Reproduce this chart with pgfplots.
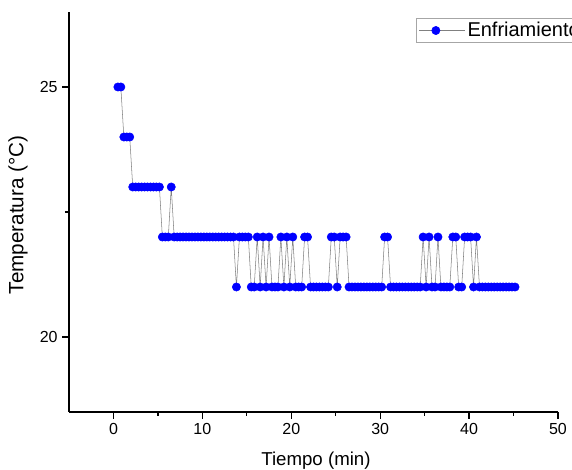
\documentclass[border=0pt]{standalone}
\usepackage{pgfplots}
\pgfplotsset{compat=1.18}
\usepackage{fontspec}
\setmainfont{Liberation Sans}
\begin{document}
\begin{tikzpicture}
\begin{axis}[
  scale only axis,
  width=366.75pt, height=300pt,
  xmin=-5, xmax=50, ymin=18.5, ymax=26.5,
  axis x line*=bottom, axis y line*=left,
  axis line style={line width=1pt, -},
  xtick={0,10,20,30,40,50},
  minor xtick={5,15,25,35,45},
  ytick={20,25}, minor ytick={22.5},
  tick align=outside,
  major tick length=5pt, minor tick length=3pt,
  tick style={line width=0.9pt, black},
  ticklabel style={font=\fontsize{12}{14}\selectfont},
  /pgf/number format/assume math mode=true,
  xlabel={Tiempo (min)}, ylabel={Temperatura (°C)},
  xlabel style={font=\fontsize{14}{16}\selectfont, at={(axis description cs:0.505,0)}, yshift=-36.75pt, anchor=center},
  ylabel style={font=\fontsize{15.5}{17}\selectfont, at={(axis description cs:-0.1043,0.4925)}, anchor=center},
  legend style={at={(rel axis cs:0.7096,0.985)}, anchor=north west, draw=gray!70,
    font=\fontsize{15}{17}\selectfont, inner xsep=2pt, inner ysep=1pt},
  legend image code/.code={\draw[mark repeat=2,mark phase=2] plot coordinates {(0cm,0cm) (0.44cm,0cm) (0.88cm,0cm)};
    \path (0.88cm,0cm) -- ++(9pt,0pt);},
]
\addplot[color=gray, line width=0.4pt, mark=*, mark size=3.1pt, mark options={fill=blue, draw=blue, solid}] table {
x y
0.50 25
0.83 25
1.17 24
1.50 24
1.83 24
2.17 23
2.50 23
2.83 23
3.17 23
3.50 23
3.83 23
4.17 23
4.50 23
4.83 23
5.17 23
5.50 22
5.83 22
6.17 22
6.50 23
6.83 22
7.17 22
7.50 22
7.83 22
8.17 22
8.50 22
8.83 22
9.17 22
9.50 22
9.83 22
10.17 22
10.50 22
10.83 22
11.17 22
11.50 22
11.83 22
12.17 22
12.50 22
12.83 22
13.17 22
13.50 22
13.83 21
14.17 22
14.50 22
14.83 22
15.17 22
15.50 21
15.83 21
16.17 22
16.50 21
16.83 22
17.17 21
17.50 22
17.83 21
18.17 21
18.50 21
18.83 22
19.17 21
19.50 22
19.83 21
20.17 22
20.50 21
20.83 21
21.17 21
21.50 22
21.83 22
22.17 21
22.50 21
22.83 21
23.17 21
23.50 21
23.83 21
24.17 21
24.50 22
24.83 22
25.17 21
25.50 22
25.83 22
26.17 22
26.50 21
26.83 21
27.17 21
27.50 21
27.83 21
28.17 21
28.50 21
28.83 21
29.17 21
29.50 21
29.83 21
30.17 21
30.50 22
30.83 22
31.17 21
31.50 21
31.83 21
32.17 21
32.50 21
32.83 21
33.17 21
33.50 21
33.83 21
34.17 21
34.50 21
34.83 22
35.17 21
35.50 22
35.83 21
36.17 21
36.50 22
36.83 21
37.17 21
37.50 21
37.83 21
38.17 22
38.50 22
38.83 21
39.17 21
39.50 22
39.83 22
40.17 22
40.50 21
40.83 22
41.17 21
41.50 21
41.83 21
42.17 21
42.50 21
42.83 21
43.17 21
43.50 21
43.83 21
44.17 21
44.50 21
44.83 21
45.17 21
};
\addlegendentry{Enfriamiento}
\end{axis}
\pgfresetboundingbox
\useasboundingbox (-51.75pt,-43.5pt) rectangle (377.25pt,309pt);
\end{tikzpicture}
\end{document}
